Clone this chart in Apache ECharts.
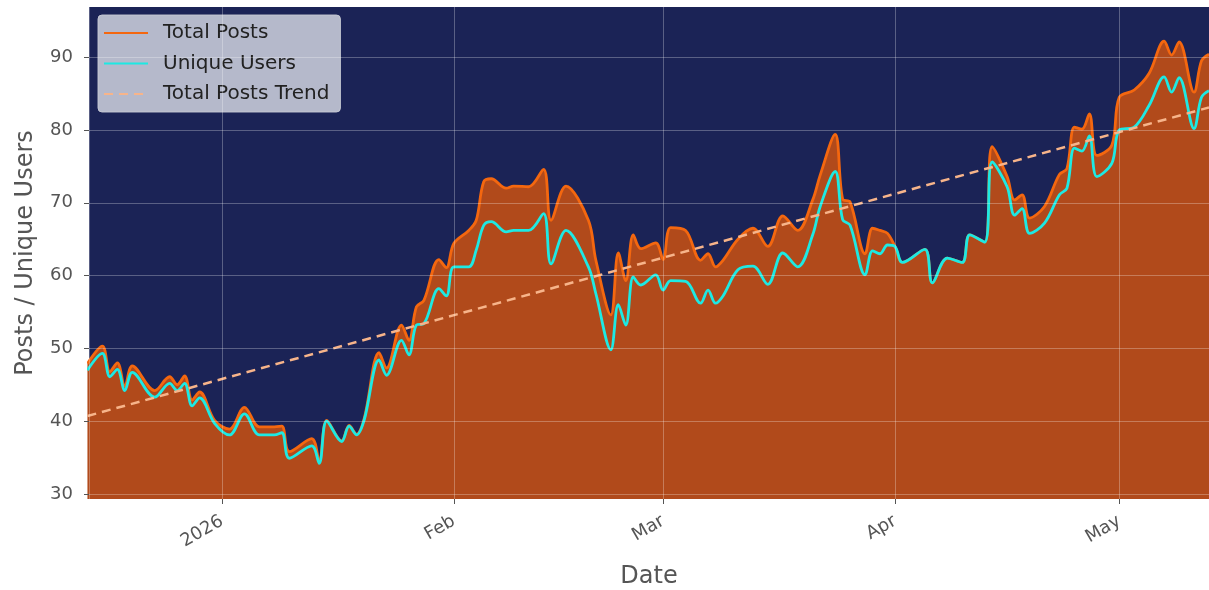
<!DOCTYPE html>
<html>
<head>
<meta charset="utf-8">
<script src="https://cdn.jsdelivr.net/npm/echarts@6/dist/echarts.min.js"></script>
<style>
  html, body { margin: 0; padding: 0; background: #fff; }
  #main { width: 1209px; height: 590px; }
</style>
</head>
<body>
<div id="main"></div>
<script>
// values (turning points of the smoothed daily curves)
var dates = [
  "2025-12-14", "2025-12-16", "2025-12-17", "2025-12-18", "2025-12-19", "2025-12-20",
  "2025-12-23", "2025-12-25", "2025-12-26", "2025-12-27", "2025-12-28", "2025-12-29",
  "2025-12-31", "2026-01-02", "2026-01-04", "2026-01-06", "2026-01-08", "2026-01-09",
  "2026-01-10", "2026-01-13", "2026-01-14", "2026-01-15", "2026-01-17", "2026-01-18",
  "2026-01-19", "2026-01-20", "2026-01-22", "2026-01-23", "2026-01-25", "2026-01-26",
  "2026-01-27", "2026-01-28", "2026-01-30", "2026-01-31", "2026-02-01", "2026-02-03",
  "2026-02-04", "2026-02-05", "2026-02-06", "2026-02-08", "2026-02-09", "2026-02-11",
  "2026-02-13", "2026-02-14", "2026-02-16", "2026-02-19", "2026-02-20", "2026-02-22",
  "2026-02-23", "2026-02-24", "2026-02-25", "2026-02-26", "2026-02-28", "2026-03-01",
  "2026-03-02", "2026-03-04", "2026-03-06", "2026-03-07", "2026-03-08", "2026-03-09",
  "2026-03-11", "2026-03-13", "2026-03-15", "2026-03-17", "2026-03-19", "2026-03-21",
  "2026-03-22", "2026-03-24", "2026-03-25", "2026-03-26", "2026-03-28", "2026-03-29",
  "2026-03-30", "2026-03-31", "2026-04-01", "2026-04-02", "2026-04-05", "2026-04-06",
  "2026-04-08", "2026-04-10", "2026-04-11", "2026-04-13", "2026-04-14", "2026-04-16",
  "2026-04-17", "2026-04-18", "2026-04-19", "2026-04-21", "2026-04-23", "2026-04-24",
  "2026-04-25", "2026-04-26", "2026-04-27", "2026-04-28", "2026-04-30", "2026-05-01",
  "2026-05-03", "2026-05-05", "2026-05-07", "2026-05-08", "2026-05-09", "2026-05-11",
  "2026-05-12", "2026-05-13"
];
var posts = [
  47.9, 50.3, 46.8, 48.0, 44.8, 47.6,
  44.2, 46.1, 45.0, 46.2, 42.9, 44.0,
  40.1, 38.9, 41.9, 39.2, 39.2, 39.3,
  35.8, 37.6, 34.5, 40.1, 37.3, 39.4,
  38.2, 40.3, 49.4, 47.3, 53.2, 51.1,
  55.7, 56.6, 62.2, 61.1, 64.4, 66.2,
  67.6, 72.9, 73.3, 72.0, 72.3, 72.2,
  74.6, 67.6, 72.3, 67.6, 62.1, 54.6,
  63.1, 59.3, 65.6, 63.7, 64.5, 62.2,
  66.6, 66.2, 62.1, 63.0, 61.2, 62.1,
  65.0, 66.5, 64.0, 68.2, 66.2, 70.4,
  73.8, 79.4, 70.5, 70.1, 63.0, 66.5,
  66.2, 65.8, 64.0, 61.8, 63.6, 59.0,
  62.4, 61.8, 65.6, 64.6, 77.7, 73.6,
  70.4, 71.1, 67.9, 69.5, 73.9, 74.7,
  80.4, 80.1, 82.2, 76.5, 77.9, 84.5,
  85.5, 87.8, 92.2, 90.3, 92.1, 85.2,
  89.5, 90.4
];
var users = [
  47.0, 49.3, 46.1, 47.1, 44.2, 46.7,
  43.3, 45.2, 44.2, 45.2, 42.1, 43.2,
  39.7, 38.1, 41.0, 38.1, 38.1, 38.4,
  34.9, 36.6, 34.2, 40.0, 37.2, 39.3,
  38.1, 40.1, 48.4, 46.3, 51.1, 49.1,
  53.2, 53.4, 58.2, 57.2, 61.2, 61.2,
  63.5, 66.9, 67.4, 66.0, 66.2, 66.2,
  68.5, 61.6, 66.2, 61.2, 57.5, 49.8,
  56.0, 53.2, 59.8, 58.7, 60.1, 58.0,
  59.3, 59.2, 56.2, 58.0, 56.2, 57.2,
  60.8, 61.3, 58.8, 63.1, 61.2, 65.6,
  69.5, 74.3, 67.7, 66.9, 60.1, 63.4,
  63.0, 64.2, 64.0, 61.8, 63.6, 59.0,
  62.4, 61.8, 65.6, 64.6, 75.6, 72.2,
  68.3, 69.2, 65.8, 67.2, 71.1, 72.0,
  77.5, 77.1, 79.2, 73.6, 75.4, 80.0,
  80.4, 83.4, 87.3, 85.2, 87.2, 80.2,
  84.5, 85.4
];
var trendDates = ["2025-12-14", "2026-05-13"];
var trendValues = [40.7, 83.1];
var yTicks = [30, 40, 50, 60, 70, 80, 90];
var monthNames = ["Jan", "Feb", "Mar", "Apr", "May", "Jun", "Jul", "Aug", "Sep", "Oct", "Nov", "Dec"];

function pairs(xs, ys) {
  return xs.map(function (x, i) { return [x, ys[i]]; });
}

var font = "DejaVu Sans";
var option = {
  backgroundColor: "#ffffff",
  animation: false,
  textStyle: { fontFamily: font },
  grid: {
    left: 89, right: 0, top: 7, bottom: 91,
    outerBoundsMode: "none",
    containLabel: false,
    show: true,
    backgroundColor: "#1b2356",
    borderWidth: 0
  },
  legend: {
    orient: "vertical",
    left: 98, top: 15,
    padding: [8, 11, 8, 5],
    itemGap: 10.5,
    itemWidth: 44,
    itemHeight: 20,
    backgroundColor: "rgba(220,222,232,0.8)",
    borderColor: "rgba(200,202,212,0.9)",
    borderWidth: 1,
    borderRadius: 4,
    itemStyle: { opacity: 0 },
    textStyle: { fontFamily: font, fontSize: 20, color: "#222", padding: [0, 0, 0, 10] },
    data: ["Total Posts", "Unique Users", "Total Posts Trend"]
  },
  xAxis: {
    type: "time",
    min: "2025-12-14 05:00",
    max: "2026-05-13",
    z: 5,
    name: "Date",
    nameLocation: "middle",
    nameGap: 66,
    nameTextStyle: { fontFamily: font, fontSize: 24, color: "#555" },
    minInterval: 28 * 86400000,
    axisLine: { show: false },
    axisTick: { show: true, length: 5, lineStyle: { color: "#555" } },
    axisLabel: {
      rotate: 30,
      margin: 21,
      fontSize: 18,
      color: "#555",
      fontFamily: font,
      formatter: function (val) {
        var d = new Date(val);
        if (d.getDate() !== 1) return "";
        return d.getMonth() === 0 ? String(d.getFullYear()) : monthNames[d.getMonth()];
      }
    },
    splitLine: { show: true, lineStyle: { color: "rgba(255,255,255,0.28)", width: 1 } }
  },
  yAxis: {
    type: "value",
    min: 29.3,
    max: 96.9,
    splitNumber: 7,
    z: 5,
    name: "Posts / Unique Users",
    nameLocation: "middle",
    nameGap: 51,
    nameTextStyle: { fontFamily: font, fontSize: 24, color: "#555" },
    axisLine: { show: false },
    axisTick: { show: true, length: 5, customValues: yTicks, lineStyle: { color: "#555" } },
    axisLabel: {
      margin: 16,
      fontSize: 18,
      color: "#555",
      fontFamily: font,
      customValues: yTicks
    },
    splitLine: { show: true, lineStyle: { color: "rgba(255,255,255,0.28)", width: 1 } }
  },
  series: [
    {
      name: "Total Posts",
      type: "line",
      data: pairs(dates, posts),
      smooth: 0.35,
      symbol: "none",
      z: 2,
      lineStyle: { color: "#f4670f", width: 2.8 },
      itemStyle: { color: "#f4670f" },
      areaStyle: { color: "#b14a1b", opacity: 1, origin: "start" }
    },
    {
      name: "Unique Users",
      type: "line",
      data: pairs(dates, users),
      smooth: 0.35,
      symbol: "none",
      z: 3,
      lineStyle: { color: "#1de9e3", width: 2.8 },
      itemStyle: { color: "#1de9e3" }
    },
    {
      name: "Total Posts Trend",
      type: "line",
      data: pairs(trendDates, trendValues),
      symbol: "none",
      z: 4,
      lineStyle: { color: "#f7b48a", width: 2.5, type: [9, 6] },
      itemStyle: { color: "#f7b48a" }
    }
  ]
};

var myChart = echarts.init(document.getElementById("main"));
myChart.setOption(option);
</script>
</body>
</html>
